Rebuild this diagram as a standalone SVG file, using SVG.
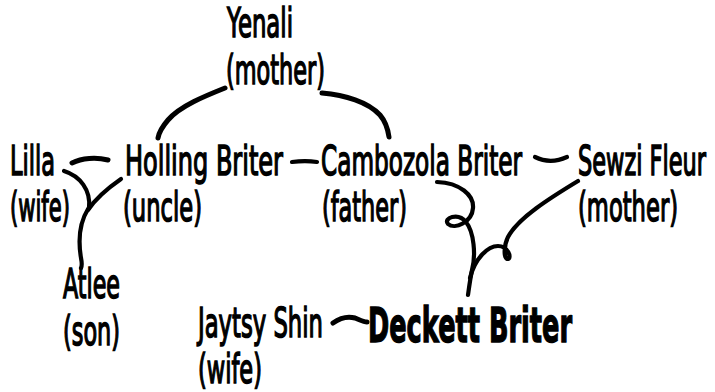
<svg xmlns="http://www.w3.org/2000/svg" width="715" height="392" viewBox="0 0 715 392">
  <style>
    .name { font-family: "DejaVu Sans", "Liberation Sans", sans-serif; font-size: 41px; fill: #000; stroke: #000; stroke-width: 1.3; vector-effect: non-scaling-stroke; }
    .main { font-family: "DejaVu Sans", "Liberation Sans", sans-serif; font-size: 48px; font-weight: bold; fill: #000; stroke: #000; stroke-width: 1.2; vector-effect: non-scaling-stroke; }
    .ink { fill: none; stroke: #000; stroke-width: 4.2; stroke-linecap: round; stroke-linejoin: round; }
    .thick { stroke-width: 5; }
  </style>
  <rect width="715" height="392" fill="#fff"/>

  <!-- hand-drawn ties between family members -->
  <g id="connectors">
    <!-- Yenali to her two sons -->
    <path class="ink thick" d="M225,88 C205,96 180,106 168,120 C162,127 159,132 158,138"/>
    <path class="ink thick" d="M322,93 C345,95 368,102 380,115 C386,122 388,130 389,137"/>
    <!-- Lilla and Holling -->
    <path class="ink thick" d="M72,163 C82,158 96,157 108,160"/>
    <!-- Lilla and Holling down to Atlee -->
    <path class="ink" d="M64,171 C80,176 91,190 89,208"/>
    <path class="ink" d="M121,179 C108,188 96,198 88,210"/>
    <path class="ink" d="M88,209 C80,222 78,240 81,258 C82,263 82,266 81,268"/>
    <!-- Holling and Cambozola -->
    <path class="ink" d="M292,162 C300,161 310,161 317,162"/>
    <!-- Cambozola and Sewzi -->
    <path class="ink" d="M535,157 C545,162 556,162 567,157"/>
    <!-- Cambozola down to Deckett -->
    <path class="ink" d="M437,182 C460,183 474,195 473,208 C472,222 455,230 448,224 C443,218 458,212 466,222 C474,232 476,255 472,270 C470,280 469,288 468,295"/>
    <!-- Sewzi down to Deckett -->
    <path class="ink" d="M470,278 C475,258 488,246 498,246 C508,246 512,258 508,259 C503,259 504,245 508,237 C518,218 550,198 578,181"/>
    <!-- Jaytsy and Deckett -->
    <path class="ink thick" d="M333,323 C340,318 348,316 355,318 C360,320 364,322 367,322"/>
  </g>

  <!-- names are set in a narrowed sans: each line is squeezed horizontally -->
  <g id="yenali">
    <text class="name" transform="translate(227,37) scale(0.531,1)" textLength="124.3" lengthAdjust="spacingAndGlyphs">Yenali</text>
    <text class="name" transform="translate(226,84) scale(0.547,1)" textLength="181" lengthAdjust="spacingAndGlyphs">(mother)</text>
  </g>
  <g id="lilla">
    <text class="name" transform="translate(10,175) scale(0.548,1)" textLength="82.1" lengthAdjust="spacingAndGlyphs">Lilla</text>
    <text class="name" transform="translate(10,221) scale(0.515,1)" textLength="116.5" lengthAdjust="spacingAndGlyphs">(wife)</text>
  </g>
  <g id="holling">
    <text class="name" transform="translate(125,175) scale(0.586,1)" textLength="269.6" lengthAdjust="spacingAndGlyphs">Holling Briter</text>
    <text class="name" transform="translate(123,221) scale(0.552,1)" textLength="143.1" lengthAdjust="spacingAndGlyphs">(uncle)</text>
  </g>
  <g id="cambozola">
    <text class="name" transform="translate(321,175) scale(0.565,1)" textLength="355.8" lengthAdjust="spacingAndGlyphs">Cambozola Briter</text>
    <text class="name" transform="translate(322,221) scale(0.546,1)" textLength="155.7" lengthAdjust="spacingAndGlyphs">(father)</text>
  </g>
  <g id="sewzi">
    <text class="name" transform="translate(578,175) scale(0.547,1)" textLength="234" lengthAdjust="spacingAndGlyphs">Sewzi Fleur</text>
    <text class="name" transform="translate(578,221) scale(0.552,1)" textLength="181.2" lengthAdjust="spacingAndGlyphs">(mother)</text>
  </g>
  <g id="atlee">
    <text class="name" transform="translate(63,298) scale(0.538,1)" textLength="105.9" lengthAdjust="spacingAndGlyphs">Atlee</text>
    <text class="name" transform="translate(63,345) scale(0.546,1)" textLength="104.4" lengthAdjust="spacingAndGlyphs">(son)</text>
  </g>
  <g id="jaytsy">
    <text class="name" transform="translate(198,337) scale(0.554,1)" textLength="225.6" lengthAdjust="spacingAndGlyphs">Jaytsy Shin</text>
    <text class="name" transform="translate(198,383) scale(0.549,1)" textLength="116.6" lengthAdjust="spacingAndGlyphs">(wife)</text>
  </g>
  <g id="deckett">
    <text class="main" transform="translate(368,342) scale(0.532,1)" textLength="383.5" lengthAdjust="spacingAndGlyphs">Deckett Briter</text>
  </g>
</svg>
